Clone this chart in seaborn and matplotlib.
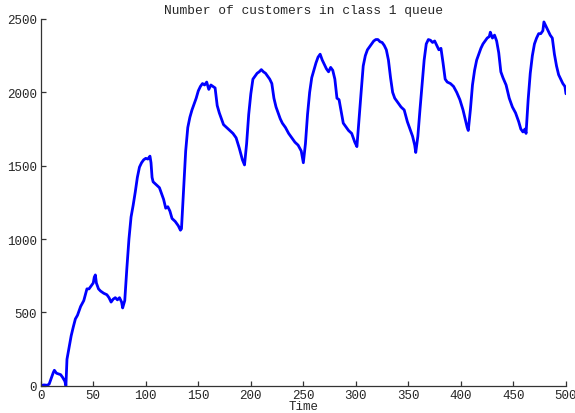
import matplotlib
matplotlib.use("Agg")
import matplotlib.pyplot as plt
import numpy as np
import pandas as pd
import seaborn as sns

# values (time, queue length)
time = [
    0, 3, 6, 8, 10, 12, 13, 15, 17, 19, 21, 23, 24,
    25, 27, 29, 31, 33, 35, 38, 41, 44, 46, 48, 50, 51, 52, 53, 55, 57, 60, 63, 65, 67, 69, 71, 73, 75, 77, 78, 80,
    82, 84, 86, 88, 90, 92, 94, 96, 98, 100, 102, 104, 105, 106, 107, 110, 113, 115, 117, 119, 121, 123, 125, 128, 131, 133, 134,
    136, 138, 140, 142, 144, 146, 148, 150, 152, 154, 156, 158, 160, 162, 164, 166, 168, 170, 172, 174, 177, 180, 183, 186, 189, 192, 194,
    196, 198, 200, 202, 204, 206, 208, 210, 212, 214, 216, 218, 220, 222, 224, 226, 228, 230, 233, 236, 239, 242, 245, 248, 250, 252,
    254, 256, 258, 260, 262, 264, 266, 268, 270, 272, 274, 276, 278, 280, 282, 284, 286, 288, 290, 293, 296, 299, 301,
    303, 305, 307, 309, 311, 313, 315, 317, 319, 321, 323, 325, 327, 329, 331, 333, 335, 337, 340, 343, 346, 349, 352, 354, 356, 357,
    359, 361, 363, 365, 367, 369, 371, 373, 375, 377, 379, 381, 383, 385, 387, 390, 393, 396, 399, 402, 404, 406, 407,
    409, 411, 413, 415, 417, 419, 421, 423, 425, 427, 428, 430, 432, 434, 436, 438, 440, 443, 446, 449, 452, 455, 457, 459, 461, 462,
    464, 466, 468, 470, 472, 474, 476, 478, 479, 481, 483, 485, 487, 489, 491, 493, 495, 497, 499, 500,
]
customers = [
    0, 5, 3, 10, 50, 90, 105, 85, 80, 75, 55, 30, 0,
    180, 260, 340, 400, 455, 480, 540, 580, 660, 660, 680, 700, 740, 755, 700, 660, 645, 630, 620, 600, 570, 590, 600, 585, 600, 570, 530, 580,
    800, 1000, 1150, 1230, 1320, 1420, 1490, 1520, 1540, 1550, 1545, 1565, 1520, 1420, 1390, 1370, 1350, 1310, 1270, 1210, 1220, 1190, 1140, 1120, 1090, 1060, 1070,
    1330, 1600, 1760, 1830, 1880, 1920, 1960, 2010, 2040, 2060, 2050, 2070, 2020, 2050, 2040, 2030, 1910, 1860, 1820, 1780, 1760, 1740, 1720, 1690, 1620, 1540, 1505,
    1650, 1850, 1990, 2090, 2110, 2130, 2140, 2155, 2140, 2130, 2110, 2090, 2060, 1960, 1900, 1860, 1820, 1790, 1760, 1720, 1690, 1660, 1640, 1600, 1520, 1650,
    1850, 2000, 2100, 2150, 2200, 2240, 2260, 2220, 2190, 2160, 2140, 2170, 2150, 2090, 1960, 1950, 1870, 1790, 1770, 1740, 1720, 1660, 1630,
    1820, 2000, 2180, 2250, 2290, 2310, 2330, 2350, 2360, 2360, 2345, 2340, 2320, 2290, 2220, 2100, 2000, 1960, 1930, 1900, 1880, 1800, 1740, 1700, 1640, 1590,
    1700, 1880, 2050, 2220, 2330, 2360, 2355, 2340, 2350, 2320, 2290, 2300, 2200, 2090, 2070, 2060, 2040, 2000, 1950, 1880, 1820, 1760, 1740,
    1880, 2050, 2150, 2220, 2260, 2300, 2330, 2350, 2370, 2380, 2410, 2370, 2390, 2350, 2270, 2140, 2100, 2050, 1960, 1900, 1860, 1800, 1750, 1730, 1750, 1720,
    1950, 2130, 2250, 2330, 2370, 2400, 2400, 2420, 2480, 2450, 2420, 2390, 2370, 2260, 2180, 2120, 2090, 2060, 2040, 1990,
]
x_ticks = [0, 50, 100, 150, 200, 250, 300, 350, 400, 450, 500]
y_ticks = [0, 500, 1000, 1500, 2000, 2500]

sns.set_style("ticks")
plt.rcParams["font.family"] = ["Liberation Mono", "DejaVu Sans Mono"]
plt.rcParams.update({
    "font.size": 9,
    "text.color": "#262626",
    "axes.edgecolor": "#333333",
    "axes.linewidth": 0.9,
    "xtick.color": "#333333",
    "ytick.color": "#333333",
    "xtick.labelcolor": "#262626",
    "ytick.labelcolor": "#262626",
    "xtick.direction": "in",
    "ytick.direction": "in",
})

df = pd.DataFrame({"Time": time, "Customers": customers})

fig = plt.figure(figsize=(5.75, 4.14), dpi=100)
ax = fig.add_axes([0.0708, 0.066, 0.9135, 0.8857])
sns.lineplot(data=df, x="Time", y="Customers", color="#0000ff", lw=2.0, ax=ax)

ax.set_xlim(0, 500)
ax.set_ylim(0, 2500)
ax.set_xticks(x_ticks)
ax.set_yticks(y_ticks)
ax.tick_params(axis="both", length=3.5, width=0.9, labelsize=9)
ax.tick_params(axis="x", pad=2.5)
ax.tick_params(axis="y", pad=2.5)
ax.set_xlabel("Time", fontsize=9, labelpad=-1)
ax.set_ylabel("")
ax.set_title("Number of customers in class 1 queue", fontsize=9.3, pad=4)
sns.despine(ax=ax)

fig.savefig("out.png", dpi=100)
